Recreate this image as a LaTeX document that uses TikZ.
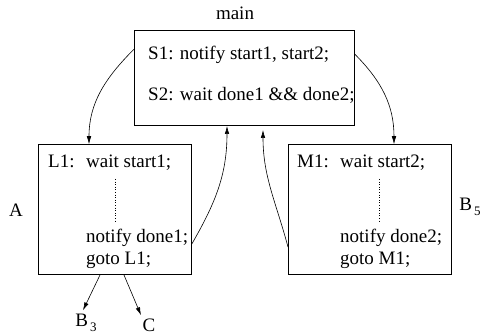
\documentclass[tikz,border=0pt]{standalone}
\usepackage{fontspec}
\setmainfont{Liberation Serif}
\usetikzlibrary{arrows.meta}
\newcommand{\lowsub}[1]{\hspace{2pt}\raisebox{-5pt}{\fontsize{13}{15}\selectfont #1}}
\begin{document}
\begin{tikzpicture}[x=1pt,y=1pt,
  box/.style={draw,line width=0.8pt,inner sep=0pt,anchor=south west},
  txt/.style={inner sep=0pt,anchor=base west,font=\fontsize{19}{23}\selectfont},
  lbl/.style={inner sep=0pt,anchor=base,font=\fontsize{19}{23}\selectfont},
  conn/.style={line width=0.6pt,-{Latex[length=8pt,width=4.5pt]}},
  dots/.style={line width=0.6pt,dotted}]
\useasboundingbox (0,0) rectangle (482,336);
% boxes
\node[box,minimum width=220pt,minimum height=95pt] (main) at (134,210) {};
\node[box,minimum width=153pt,minimum height=130pt] (left) at (38,61) {};
\node[box,minimum width=163pt,minimum height=130pt] (right) at (288,61) {};
% main text
\node[txt] (s1) at (148,276) {S1: notify start1, start2;};
\node[txt] (s2) at (148,235) {S2: wait done1 \&\& done2;};
% left text
\node[txt] (l1) at (48,168) {L1:};
\node[txt] (lw) at (86,168) {wait start1;};
\node[txt] (ln) at (86,93) {notify done1;};
\node[txt] (lg) at (86,71) {goto L1;};
\coordinate (ldt) at (115,157);
\coordinate (ldb) at (115,113);
\draw[dots] (ldt) -- (ldb);
% right text
\node[txt] (m1) at (297,168) {M1:};
\node[txt] (rw) at (340,168) {wait start2;};
\node[txt] (rn) at (340,93) {notify done2;};
\node[txt] (rg) at (340,71) {goto M1;};
\coordinate (rdt) at (379,157);
\coordinate (rdb) at (379,113);
\draw[dots] (rdt) -- (rdb);
% labels
\node[lbl] (mainlbl) at (235,316) {main};
\node[lbl] (A) at (16,119) {A};
\node[lbl] (B5) at (470,125) {B\lowsub{5}};
\node[lbl] (B3) at (86,9) {B\lowsub{3}};
\node[lbl] (C) at (149,4) {C};
% connectors
\draw[conn] ([yshift=-19pt]main.north west) to[out=225,in=90] ([xshift=51pt]left.north west);
\draw[conn] ([yshift=-24pt]main.north east) to[out=-45,in=90] ([xshift=106pt]right.north west);
\draw[conn] ([yshift=31pt]left.south east) to[out=60,in=-90] ([xshift=93pt]main.south west);
\draw[conn] ([yshift=28pt]right.south west) to[out=105,in=-90] ([xshift=129pt,yshift=-4pt]main.south west);
\draw[conn] ([xshift=62pt]left.south west) -- ([yshift=4pt,xshift=-3pt]B3.north);
\draw[conn] ([xshift=86pt]left.south west) -- ([yshift=4pt,xshift=-8pt]C.north);
\end{tikzpicture}
\end{document}
